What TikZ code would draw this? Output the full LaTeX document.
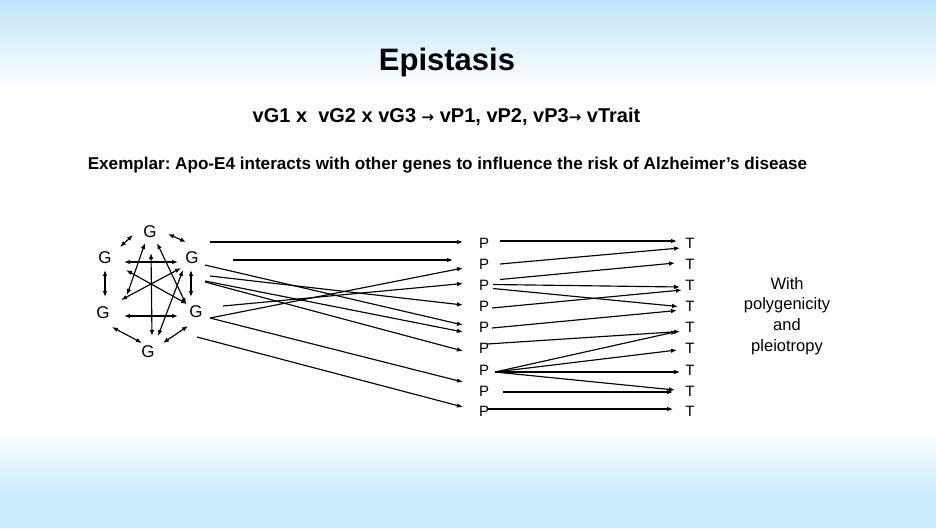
\documentclass[tikz,border=0pt]{standalone}
\usepackage{fontspec}
\setmainfont{Liberation Sans}
\newfontfamily\arrfont{DejaVu Sans}
\usetikzlibrary{arrows.meta,calc}
\definecolor{skytop}{RGB}{192,229,250}
\definecolor{skybot}{RGB}{205,236,251}
\newcommand{\uparr}{\raisebox{0.5pt}{\arrfont\fontsize{15}{17}\selectfont →}}
\tikzset{
  lbl/.style={inner sep=0pt, font=\fontsize{15}{17}\selectfont},
  glbl/.style={inner sep=0pt, font=\fontsize{17}{19}\selectfont},
  arr/.style={line width=1.15pt, -{Latex[length=6pt,width=4.6pt]}},
  darr/.style={line width=1.15pt, {Latex[length=6pt,width=4.6pt]}-{Latex[length=6pt,width=4.6pt]}},
}
\frenchspacing
\begin{document}
\begin{tikzpicture}[x=1pt,y=-1pt]
\useasboundingbox (0,0) rectangle (936,528);
% background
\fill[white] (0,0) rectangle (936,528);
\shade[top color=skytop, bottom color=white] (0,0) rectangle (936,88);
\shade[top color=white, bottom color=skybot] (0,432) rectangle (936,492);
\fill[skybot] (0,491.5) rectangle (936,528);

% texts
\node[inner sep=0pt, font=\fontsize{31}{36}\selectfont\bfseries] (title) at (447,62) {Epistasis};
\node[inner sep=0pt, font=\fontsize{20}{24}\selectfont\bfseries] (eq) at (446.5,117) {vG1 x\ \ vG2 x vG3 \uparr\ vP1, vP2, vP3\uparr\ vTrait};
\node[inner sep=0pt, font=\fontsize{17.1}{20}\selectfont\bfseries] (ex) at (447.5,165) {Exemplar: Apo-E4 interacts with other genes to influence the risk of Alzheimer’s disease};
\node[inner sep=0pt, align=center, font=\fontsize{16.5}{20.7}\selectfont] (note) at (787,316) {With\\polygenicity\\and\\pleiotropy};

% G nodes
\node[glbl] (Gt)  at (150,232) {G};
\node[glbl] (Gl)  at (105,258) {G};
\node[glbl] (Gr)  at (192,258) {G};
\node[glbl] (Gll) at (103,313) {G};
\node[glbl] (Glr) at (196,312) {G};
\node[glbl] (Gb)  at (148,352) {G};

% P and T nodes
\foreach \i/\y in {1/243,2/264,3/285.5,4/306,5/327,6/348,7/370,8/391,9/411}{
  \node[lbl] (P\i) at (484,\y) {P};
  \node[lbl] (T\i) at (690,\y) {T};
}

% G cluster interactions
\draw[darr] ($(Gt)+(-17,3)$) -- ($(Gl)+(15,-11)$);
\draw[darr] ($(Gt)+(18,2)$) -- ($(Gr)+(-6,-16)$);
\draw[darr] ($(Gl)+(19,4)$) -- ($(Gr)+(-14,4)$);
\draw[darr] ($(Gl)+(0,12)$) -- ($(Gll)+(2,-16)$);
\draw[darr] ($(Gr)+(-1,12)$) -- ($(Glr)+(-5,-15)$);
\draw[darr] ($(Gll)+(21,3)$) -- ($(Glr)+(-18,4)$);
\draw[darr] ($(Gll)+(9,14)$) -- ($(Gb)+(-6,-9)$);
\draw[darr] ($(Glr)+(-8,14)$) -- ($(Gb)+(15,-9)$);
\draw[darr] ($(Gt)+(1,21)$) -- ($(Gb)+(4,-16)$);
\draw[darr] ($(Gt)+(-5,11)$) -- ($(Gll)+(24,-18)$);
\draw[darr] ($(Gt)+(7,11)$) -- ($(Glr)+(-10,-8)$);
\draw[darr] ($(Gl)+(21,12)$) -- ($(Glr)+(-9,-8)$);
\draw[darr] ($(Gr)+(-11,10)$) -- ($(Gll)+(18,-13)$);
\draw[darr] ($(Gr)+(-9,12)$) -- ($(Gb)+(10,-16)$);

% G -> P
\draw[arr] ($(Gt)+(60,10)$) -- ($(P1)+(-21,-1)$);
\draw[arr] ($(Gr)+(41,2)$) -- ($(P2)+(-31,-4)$);
\draw[arr] ($(Gr)+(13,7)$) -- ($(P5)+(-21,-2)$);
\draw[arr] ($(Gr)+(18,18)$) -- ($(P4)+(-21,-1)$);
\draw[arr] ($(Gr)+(13,23)$) -- ($(P5)+(-21,5)$);
\draw[arr] ($(Gr)+(13,24)$) -- ($(P6)+(-21,3)$);
\draw[arr] ($(Glr)+(27,-6)$) -- ($(P3)+(-21,-2)$);
\draw[arr] ($(Glr)+(14,6)$) -- ($(P2)+(-21,4)$);
\draw[arr] ($(Glr)+(14,6)$) -- ($(P8)+(-21,-9)$);
\draw[arr] ($(Glr)+(1,25)$) -- ($(P9)+(-21,-4)$);

% P -> T
\draw[arr] ($(P1)+(16,-2)$) -- ($(T1)+(-13,-2)$);
\draw[arr] ($(P2)+(16,0)$) -- ($(T1)+(-10,5)$);
\draw[arr] ($(P3)+(16,-6)$) -- ($(T2)+(-15,-1)$);
\draw[arr] ($(P3)+(9,-1)$) -- ($(T3)+(-10,1.5)$);
\draw[arr] ($(P3)+(9,3)$) -- ($(T4)+(-12,0.5)$);
\draw[arr] ($(P4)+(8,2)$) -- ($(T3)+(-8,4.5)$);
\draw[arr] ($(P5)+(8,1)$) -- ($(T4)+(-13,4.5)$);
\draw[arr] ($(P6)+(3,-4)$) -- ($(T5)+(-10,4.5)$);
\draw[arr] ($(P7)+(11,2)$) -- ($(T5)+(-13,4.5)$);
\draw[arr] ($(P7)+(11,2)$) -- ($(T6)+(-13,2)$);
\draw[arr] ($(P7)+(11,2)$) -- ($(T7)+(-10,2)$);
\draw[arr] ($(P7)+(11,2)$) -- ($(T8)+(-15,-1)$);
\draw[arr] ($(P8)+(19,1)$) -- ($(T8)+(-17,1)$);
\draw[arr] ($(P9)+(4,-2)$) -- ($(T9)+(-17,-2)$);
\end{tikzpicture}
\end{document}
